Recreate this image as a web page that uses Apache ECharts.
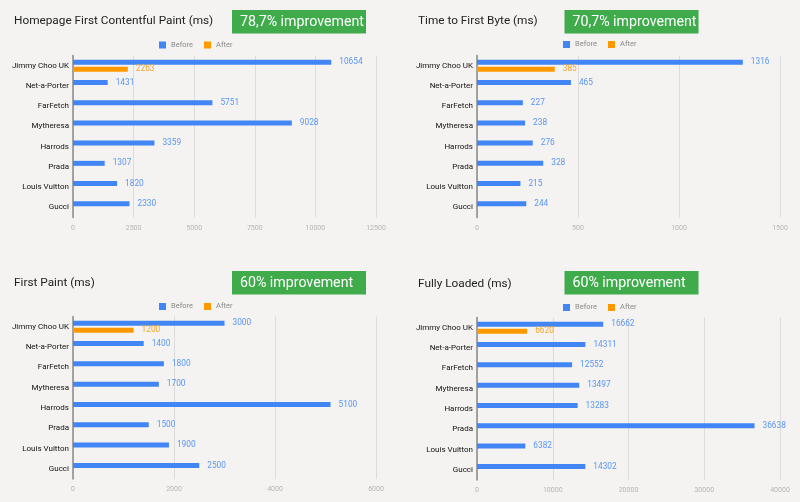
<!DOCTYPE html>
<html>
<head>
<meta charset="utf-8">
<script src="https://cdn.jsdelivr.net/npm/echarts@6/dist/echarts.min.js"></script>
<style>
  html, body { margin: 0; padding: 0; background: #f4f3f1; }
  #chart { width: 800px; height: 502px; }
</style>
</head>
<body>
<div id="chart"></div>
<script>
const categories = ['Jimmy Choo UK', 'Net-a-Porter', 'FarFetch', 'Mytheresa', 'Harrods', 'Prada', 'Louis Vuitton', 'Gucci']

const fcpBefore = [10654, 1431, 5751, 9028, 3359, 1307, 1820, 2330]
const fcpAfter = [2263, null, null, null, null, null, null, null]
const ttfbBefore = [1316, 465, 227, 238, 276, 328, 215, 244]
const ttfbAfter = [385, null, null, null, null, null, null, null]
const fpBefore = [3000, 1400, 1800, 1700, 5100, 1500, 1900, 2500]
const fpAfter = [1200, null, null, null, null, null, null, null]
const flBefore = [16662, 14311, 12552, 13497, 13283, 36638, 6382, 14302]
const flAfter = [6620, null, null, null, null, null, null, null]

const titles = ['Homepage First Contentful Paint (ms)', 'Time to First Byte (ms)', 'First Paint (ms)', 'Fully Loaded (ms)']
const badges = ['78,7% improvement', '70,7% improvement', '60% improvement', '60% improvement']
const axisMax = [12500, 1500, 6000, 40000]
const axisStep = [2500, 500, 2000, 10000]

const BLUE = '#4285f4'
const ORANGE = '#ff9900'
const FONT = 'Roboto, Arial, sans-serif'

// panel layout: plot area position plus where title, legend and badge sit
const panels = [
  { left: 73, top: 55.6, height: 161.8, titleY: 22, legendY: 40, boxX: 232, boxY: 10 },
  { left: 477, top: 55.6, height: 161.8, titleY: 22, legendY: 39.5, boxX: 564.5, boxY: 10 },
  { left: 73, top: 316.5, height: 162.6, titleY: 284, legendY: 301.5, boxX: 232, boxY: 271 },
  { left: 477, top: 317.5, height: 162.6, titleY: 285, legendY: 302.5, boxX: 564.5, boxY: 271 },
]
const plotWidth = 303

const pairs = [
  [fcpBefore, fcpAfter],
  [ttfbBefore, ttfbAfter],
  [fpBefore, fpAfter],
  [flBefore, flAfter],
]

const chart = echarts.init(document.getElementById('chart'))

const grid = []
const xAxis = []
const yAxis = []
const series = []
const legend = []
const title = []
const graphic = []

panels.forEach((p, i) => {
  grid.push({ left: p.left, top: p.top, width: plotWidth, height: p.height })
  xAxis.push({
    type: 'value',
    gridIndex: i,
    min: 0,
    max: axisMax[i],
    interval: axisStep[i],
    axisLine: { show: false },
    axisTick: { show: false },
    axisLabel: { color: '#b5b5b5', fontSize: 7, fontFamily: FONT, margin: 7, formatter: (v) => String(v) },
    splitLine: { lineStyle: { color: '#dcdcdc', width: 1 } },
  })
  yAxis.push({
    type: 'category',
    gridIndex: i,
    inverse: true,
    data: categories,
    axisLine: { show: true, lineStyle: { color: '#8a8a8a', width: 1.5 } },
    axisTick: { show: false },
    axisLabel: { color: '#111', fontSize: 8, fontFamily: FONT, margin: 4 },
  })
  ;['Before', 'After'].forEach((name, k) => {
    const color = k === 0 ? BLUE : ORANGE
    series.push({
      name: name,
      type: 'bar',
      xAxisIndex: i,
      yAxisIndex: i,
      data: pairs[i][k],
      barWidth: 5,
      barGap: '40%',
      itemStyle: { color: color },
      label: {
        show: true,
        position: 'right',
        distance: 8,
        color: k === 0 ? '#5a95f2' : '#f5a329',
        fontSize: 8.3,
        fontFamily: FONT,
      },
    })
  })
  legend.push({
    data: ['Before', 'After'],
    left: p.left + 81,
    top: p.legendY - 4,
    itemWidth: 7,
    itemHeight: 7,
    itemGap: 11,
    icon: 'rect',
    selectedMode: false,
    textStyle: { color: '#8a8a8a', fontSize: 7.5, fontFamily: FONT },
  })
  title.push({
    text: titles[i],
    left: p.left - 59,
    top: p.titleY - 6.5,
    padding: 0,
    textStyle: { color: '#222', fontSize: 11.8, fontWeight: 'normal', fontFamily: FONT },
  })
  graphic.push({
    type: 'group',
    left: p.boxX,
    top: p.boxY,
    children: [
      { type: 'rect', shape: { x: 0, y: 0, width: 134, height: 23.5 }, style: { fill: '#3fab4b' } },
      {
        type: 'text',
        x: 8,
        y: 12,
        style: { text: badges[i], fill: '#fff', fontSize: 14.2, fontFamily: FONT, verticalAlign: 'middle' },
      },
    ],
  })
})

chart.setOption({
  backgroundColor: '#f4f3f1',
  animation: false,
  title: title,
  legend: legend,
  grid: grid,
  xAxis: xAxis,
  yAxis: yAxis,
  series: series,
  graphic: graphic,
})
</script>
</body>
</html>
